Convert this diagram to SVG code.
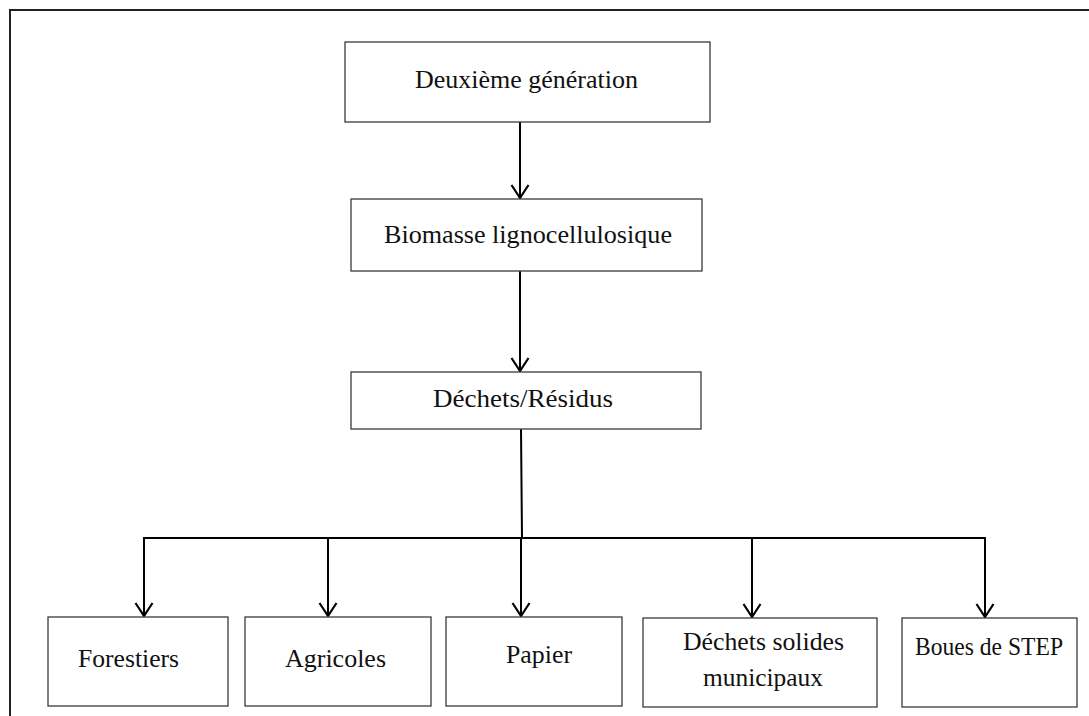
<svg xmlns="http://www.w3.org/2000/svg" width="1089" height="716" viewBox="0 0 1089 716">
<style>
.box{fill:#fff;stroke:#3a3a3a;stroke-width:1.3}
.lbl{font-family:"Liberation Serif","Times New Roman",serif;font-size:26px;fill:#111}
.con{fill:none;stroke:#000;stroke-width:2}
</style>
<defs>
<marker id="arr" markerUnits="userSpaceOnUse" markerWidth="20" markerHeight="20" refX="0" refY="0" viewBox="-15 -10 17 20" orient="auto">
<path d="M-13,-8.5 L0,0 L-13,8.5" fill="none" stroke="#000" stroke-width="2.2"/>
</marker>
</defs>
<rect width="1089" height="716" fill="#fff"/>
<path d="M10,716 V10 H1089" fill="none" stroke="#222" stroke-width="2"/>
<g id="connectors">
<line class="con" x1="520" y1="122" x2="520" y2="198" marker-end="url(#arr)"/>
<line class="con" x1="520" y1="271" x2="520" y2="371" marker-end="url(#arr)"/>
<line class="con" x1="521" y1="429" x2="522" y2="538"/>
<line class="con" x1="143" y1="538" x2="986" y2="538"/>
<line class="con" x1="144" y1="538" x2="144" y2="616" marker-end="url(#arr)"/>
<line class="con" x1="328" y1="538" x2="328" y2="616" marker-end="url(#arr)"/>
<line class="con" x1="521" y1="538" x2="521" y2="616" marker-end="url(#arr)"/>
<line class="con" x1="752" y1="538" x2="752" y2="617" marker-end="url(#arr)"/>
<line class="con" x1="985" y1="538" x2="985" y2="617" marker-end="url(#arr)"/>
</g>
<g id="n1"><rect class="box" x="345" y="42" width="365" height="80"/><text class="lbl" x="415" y="88" textLength="223" lengthAdjust="spacingAndGlyphs">Deuxième génération</text></g>
<g id="n2"><rect class="box" x="351" y="199" width="351" height="72"/><text class="lbl" x="384" y="243" textLength="288" lengthAdjust="spacingAndGlyphs">Biomasse lignocellulosique</text></g>
<g id="n3"><rect class="box" x="351" y="372" width="350" height="57"/><text class="lbl" x="433" y="407" textLength="180" lengthAdjust="spacingAndGlyphs">Déchets/Résidus</text></g>
<g id="n4"><rect class="box" x="48" y="617" width="180" height="89"/><text class="lbl" x="78" y="667" textLength="101" lengthAdjust="spacingAndGlyphs">Forestiers</text></g>
<g id="n5"><rect class="box" x="245" y="617" width="186" height="89"/><text class="lbl" x="285" y="667" textLength="101" lengthAdjust="spacingAndGlyphs">Agricoles</text></g>
<g id="n6"><rect class="box" x="446" y="617" width="176" height="89"/><text class="lbl" x="506" y="663" textLength="66" lengthAdjust="spacingAndGlyphs">Papier</text></g>
<g id="n7"><rect class="box" x="643" y="618" width="234" height="89"/><text class="lbl" x="683" y="650" textLength="161" lengthAdjust="spacingAndGlyphs">Déchets solides</text><text class="lbl" x="703" y="686" textLength="120" lengthAdjust="spacingAndGlyphs">municipaux</text></g>
<g id="n8"><rect class="box" x="902" y="618" width="175" height="89"/><text class="lbl" x="915" y="655" textLength="148" lengthAdjust="spacingAndGlyphs">Boues de STEP</text></g>
</svg>
